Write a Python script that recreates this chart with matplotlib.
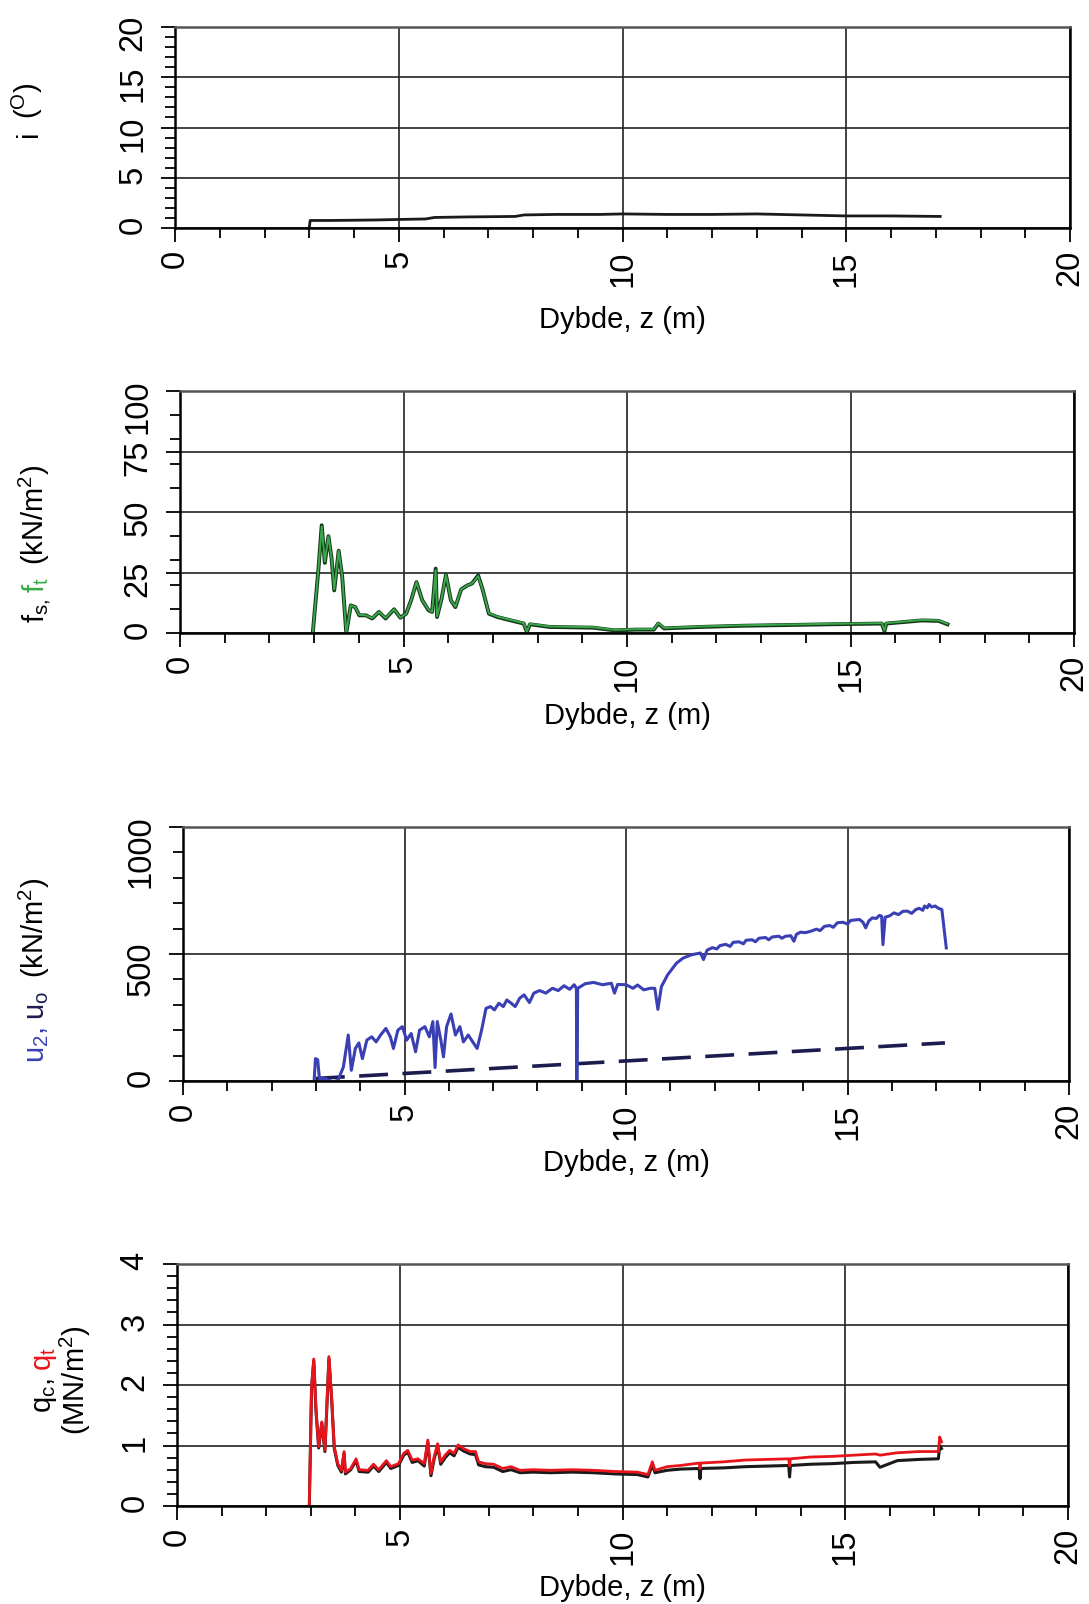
import matplotlib
matplotlib.use('Agg')
import matplotlib.pyplot as plt
from matplotlib.ticker import MultipleLocator

plt.rcParams['font.family'] = ['Liberation Sans', 'DejaVu Sans']
plt.rcParams['mathtext.default'] = 'regular'

W, H = 1089, 1604

# --- inclination i (deg)
i_z = [3.0, 3.02, 3.5, 4.5, 5.0, 5.6, 5.8, 6.5, 7.6, 7.8, 8.5, 9.5, 10.0, 11.0, 12.0, 13.0, 14.0, 15.0, 16.0, 17.1]
i_val = [0.0, 0.75, 0.75, 0.8, 0.85, 0.9, 1.05, 1.1, 1.15, 1.3, 1.35, 1.35, 1.4, 1.35, 1.35, 1.4, 1.3, 1.2, 1.2, 1.15]

# --- sleeve friction fs / ft (kN/m2)
f_z = [2.97, 3.1, 3.17, 3.24, 3.32, 3.39, 3.45, 3.55, 3.63, 3.72, 3.82, 3.92, 4.01, 4.16, 4.3,
       4.45, 4.6, 4.79, 4.93, 5.06, 5.17, 5.29, 5.42, 5.56, 5.64, 5.72, 5.75, 5.85, 5.95, 6.06,
       6.16, 6.29, 6.43, 6.53, 6.67, 6.77, 6.91, 7.1, 7.4, 7.69, 7.76, 7.83, 8.27, 9.24, 9.72,
       10.2, 10.6, 10.7, 10.83, 11.65, 12.6, 13.6, 14.55, 15.7, 15.76, 15.8, 16.6, 16.97, 17.17]
fs_val = [0, 27, 44.5, 29, 40, 31, 17.6, 34, 23, 0, 11.4, 10.7, 7.3, 7.3, 6,
          8.7, 6, 9.8, 6.3, 8, 13.5, 21, 13.5, 9.4, 8.7, 26.6, 6.6, 14, 24, 13.5,
          10.7, 18, 19.7, 20.4, 23.8, 18, 8, 6.6, 5.2, 3.9, 0.4, 3.6, 2.5, 2.2, 1.1,
          1.4, 1.4, 3.9, 1.9, 2.5, 3, 3.3, 3.6, 3.9, 0.8, 3.9, 5.2, 5, 3.6]
ft_val = [0, 27, 44, 29.5, 40, 31, 18, 34, 23, 0, 11.4, 10.7, 7.5, 7.3, 6.2,
          8.7, 6.2, 9.8, 6.3, 8, 13.5, 21, 13.5, 9.6, 8.7, 26, 6.8, 14, 24, 13.5,
          10.9, 18, 19.7, 20.4, 23.5, 18, 8.2, 6.8, 5.4, 4.1, 0.6, 3.8, 2.7, 2.4, 1.3,
          1.6, 1.6, 4.1, 2.1, 2.7, 3.2, 3.5, 3.8, 4.1, 1.0, 4.1, 5.4, 5.2, 3.8]

# --- pore pressure u2 (kN/m2)
u2_z = [2.96, 2.99, 3.04, 3.08, 3.23, 3.38, 3.5, 3.62, 3.73, 3.8, 3.89, 3.97, 4.05, 4.15, 4.26,
        4.36, 4.46, 4.58, 4.68, 4.75, 4.85, 4.95, 5.05, 5.15, 5.25, 5.34, 5.46, 5.56, 5.64, 5.69,
        5.74, 5.82, 5.88, 5.95, 6.05, 6.15, 6.25, 6.33, 6.44, 6.54, 6.64, 6.74, 6.84, 6.94, 7.03,
        7.13, 7.23, 7.31, 7.41, 7.5, 7.6, 7.7, 7.82, 7.92, 8.05, 8.19, 8.34, 8.47, 8.6, 8.73,
        8.83, 8.88, 8.89, 8.91, 9.08, 9.27, 9.47, 9.67, 9.74, 9.81, 10.0, 10.16, 10.26, 10.4, 10.55,
        10.65, 10.72, 10.8, 10.94, 11.14, 11.29, 11.48, 11.68, 11.75, 11.83, 11.95, 12.05, 12.12, 12.25, 12.35,
        12.42, 12.55, 12.65, 12.71, 12.85, 12.92, 13.0, 13.15, 13.22, 13.3, 13.45, 13.52, 13.6, 13.72, 13.79,
        13.85, 13.94, 14.05, 14.18, 14.3, 14.38, 14.48, 14.6, 14.68, 14.77, 14.9, 15.0, 15.07, 15.18, 15.27,
        15.35, 15.41, 15.48, 15.56, 15.65, 15.72, 15.77, 15.8, 15.85, 15.95, 16.05, 16.15, 16.25, 16.35, 16.45,
        16.54, 16.62, 16.7, 16.74, 16.8, 16.84, 16.9, 16.98, 17.05, 17.13, 17.23]
u2_val = [0, 88, 84, 9, 9, -5, 3, 55, 181, 42, 128, 150, 88, 161, 174,
          154, 181, 207, 174, 128, 200, 214, 161, 187, 115, 200, 214, 174, 234, 53,
          234, 161, 95, 214, 264, 181, 214, 154, 181, 154, 128, 200, 286, 293, 280,
          306, 293, 319, 306, 293, 326, 339, 309, 346, 356, 346, 365, 356, 375, 361,
          379, 365, -5, 365, 383, 388, 379, 385, 346, 380, 379, 365, 378, 359, 365,
          365, 282, 372, 418, 464, 484, 497, 504, 478, 515, 525, 520, 533, 538, 530,
          546, 548, 540, 554, 556, 548, 562, 565, 556, 567, 570, 562, 570, 572, 550,
          578, 586, 584, 590, 598, 592, 609, 612, 605, 623, 625, 618, 632, 634, 636,
          625, 603, 630, 642, 640, 652, 649, 537, 645, 650, 662, 655, 668, 669, 660,
          675, 680, 672, 689, 682, 695, 685, 689, 680, 675, 524]

# --- hydrostatic u0 (kN/m2)
u0_z = [3.0, 17.2]
u0_val = [10, 150]

# --- cone resistance qc / qt (MN/m2)
q_z = [2.97, 3.02, 3.07, 3.12, 3.18, 3.25, 3.32, 3.36, 3.41, 3.47, 3.53, 3.61, 3.69, 3.75, 3.78,
       3.9, 4.02, 4.09, 4.29, 4.41, 4.53, 4.7, 4.8, 4.97, 5.09, 5.18, 5.28, 5.41, 5.55, 5.63,
       5.7, 5.77, 5.85, 5.92, 6.02, 6.12, 6.22, 6.31, 6.43, 6.58, 6.7, 6.77, 6.92, 7.11, 7.31,
       7.5, 7.7, 7.99, 8.38, 8.87, 9.35, 9.84, 10.33, 10.57, 10.67, 10.73, 11.0, 11.3, 11.72, 11.74,
       11.76, 12.27, 12.76, 13.25, 13.73, 13.75, 13.77, 14.22, 14.71, 15.19, 15.68, 15.78, 16.17, 16.66, 17.09,
       17.12, 17.16]
qt_val = [0, 1.97, 2.43, 1.59, 0.98, 1.39, 0.92, 1.59, 2.47, 1.81, 0.98, 0.70, 0.59, 0.9, 0.56,
          0.62, 0.78, 0.6, 0.59, 0.69, 0.6, 0.75, 0.65, 0.70, 0.87, 0.92, 0.76, 0.78, 0.70, 1.09,
          0.54, 0.81, 1.03, 0.73, 0.84, 0.92, 0.87, 1.01, 0.95, 0.9, 0.9, 0.73, 0.70, 0.69, 0.62,
          0.65, 0.59, 0.6, 0.59, 0.6, 0.59, 0.57, 0.56, 0.52, 0.73, 0.59, 0.65, 0.67, 0.71, 0.62,
          0.71, 0.73, 0.76, 0.77, 0.78, 0.66, 0.78, 0.81, 0.82, 0.84, 0.86, 0.84, 0.88, 0.9, 0.9,
          1.14, 1.06]
qc_val = [0, 1.95, 2.4, 1.57, 0.96, 1.37, 0.9, 1.57, 2.44, 1.78, 0.95, 0.67, 0.56, 0.87, 0.53,
          0.6, 0.75, 0.57, 0.56, 0.66, 0.57, 0.72, 0.62, 0.67, 0.84, 0.89, 0.72, 0.75, 0.66, 1.05,
          0.5, 0.77, 0.99, 0.69, 0.8, 0.88, 0.83, 0.97, 0.91, 0.86, 0.85, 0.68, 0.65, 0.64, 0.57,
          0.6, 0.55, 0.56, 0.55, 0.56, 0.55, 0.53, 0.52, 0.48, 0.68, 0.55, 0.59, 0.61, 0.62, 0.45,
          0.62, 0.63, 0.65, 0.66, 0.67, 0.48, 0.67, 0.69, 0.7, 0.72, 0.73, 0.64, 0.75, 0.77, 0.78,
          1.0, 0.95]

fig = plt.figure(figsize=(W / 100, H / 100), dpi=100)


def px_axes(left, top, right, bottom):
    return fig.add_axes([left / W, 1 - bottom / H, (right - left) / W, (bottom - top) / H])


def style(ax, ymax, ymajor, yminor, xlab_y):
    ax.set_xlim(0, 20)
    ax.set_ylim(0, ymax)
    ax.xaxis.set_major_locator(MultipleLocator(5))
    ax.xaxis.set_minor_locator(MultipleLocator(1))
    ax.yaxis.set_major_locator(MultipleLocator(ymajor))
    ax.yaxis.set_minor_locator(MultipleLocator(yminor))
    ax.grid(True, which='major', color='#222222', lw=1.2)
    ax.tick_params(which='both', direction='out', width=1.3, labelsize=23.5)
    ax.tick_params(which='major', length=10)
    ax.tick_params(which='minor', length=7)
    ax.tick_params(axis='x', labelrotation=90, pad=6)
    ax.tick_params(axis='y', labelrotation=90, pad=9)
    for s in ax.spines.values():
        s.set_linewidth(1.8)
    ax.spines['top'].set_color('#555555')
    ax.set_xlabel('Dybde, z (m)', fontsize=21, va='center')
    pos = ax.get_position()
    ax.xaxis.set_label_coords(0.5, -((xlab_y / H) - (1 - pos.y0)) / pos.height)


def rot_label(ax, x_px, y_px, parts, size=21):
    # parts stacked bottom->top: (text, color, gap before in points)
    t = None
    for s, c, gap in parts:
        if t is None:
            t = fig.text(x_px / W, 1 - y_px / H, s, color=c, fontsize=size, rotation=90,
                         rotation_mode='anchor', ha='left', va='baseline')
        else:
            t = ax.annotate(s, xy=(x_px / W, 1), xycoords=('figure fraction', t),
                            xytext=(0, gap), textcoords='offset points', color=c, fontsize=size,
                            rotation=90, rotation_mode='anchor', ha='left', va='baseline')
    return t


# panel 1
ax1 = px_axes(175, 27, 1070, 228)
ax1.plot(i_z, i_val, color='#1a1a1a', lw=2.0)
style(ax1, 20, 5, 1, 320)
rot_label(ax1, 37, 137, [('i', 'black', 0), ('($^{O}$)', 'black', 8)])

# panel 2
ax2 = px_axes(180, 391, 1074, 633)
ax2.plot(f_z, fs_val, color='#14361a', lw=2.8)
ax2.plot(f_z, ft_val, color='#3aa84a', lw=1.4)
style(ax2, 100, 25, 10, 716)
rot_label(ax2, 44, 623, [('f$_{s,}$', 'black', 0), ('f$_{t}$', '#3aa84a', 4),
                         ('(kN/m$^{2}$)', 'black', 9)])

# panel 3
ax3 = px_axes(183, 827, 1069, 1081)
ax3.plot(u0_z, u0_val, color='#1c1c4e', lw=2.6, dashes=(8, 4))
ax3.plot(u2_z, u2_val, color='#3a3fb4', lw=2.2)
style(ax3, 1000, 500, 100, 1163)
rot_label(ax3, 44, 1063, [('u$_{2}$,', '#3a3fb4', 0), ('u$_{o}$', '#1c1c4e', 5),
                          ('(kN/m$^{2}$)', 'black', 9)])

# panel 4
ax4 = px_axes(177, 1264, 1068, 1506)
ax4.plot(q_z, qc_val, color='#1a1a1a', lw=2.2)
ax4.plot(q_z, qt_val, color='#e8141c', lw=2.0)
style(ax4, 4, 1, 0.2, 1588)
rot_label(ax4, 51, 1413, [('q$_{c}$,', 'black', 0), ('q$_{t}$', '#e8141c', 5)])
rot_label(ax4, 85, 1435, [('(MN/m$^{2}$)', 'black', 0)])

fig.savefig('out.png', dpi=100)
